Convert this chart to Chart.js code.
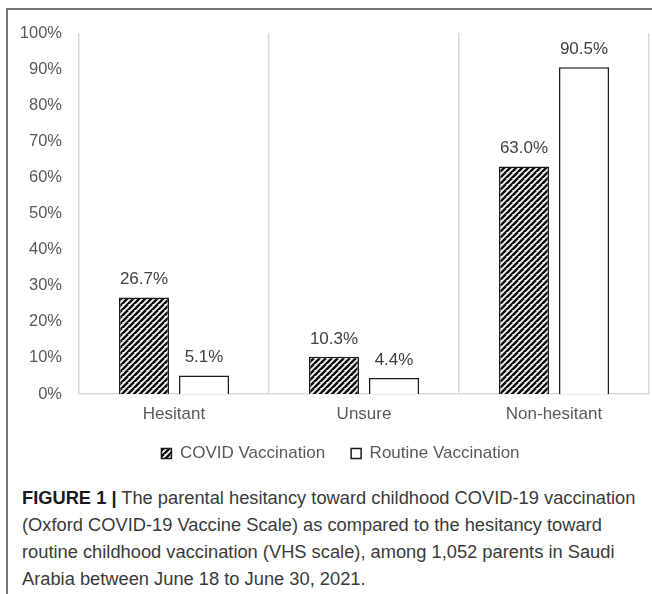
<!DOCTYPE html>
<html>
<head>
<meta charset="utf-8">
<script src="https://cdn.jsdelivr.net/npm/chart.js@4"></script>
<style>
    html, body { margin: 0; padding: 0; background: #fff; }
    body { width: 652px; height: 594px; position: relative; overflow: hidden; }
    .frame {
        position: absolute; left: 6px; top: 8px; right: 0; bottom: 0;
        border-left: 2px solid #777; border-top: 2px solid #777;
    }
    .chart-panel { position: absolute; left: 8px; top: 10px; width: 644px; height: 465px; }
    .caption {
        position: absolute; left: 22px; top: 484px; width: 630px; white-space: nowrap;
        font-family: "Liberation Sans", Arial, sans-serif; font-size: 18.3px;
        line-height: 27px; color: #3a3a3a;
    }
    .caption b { color: #1a1a1a; }
</style>
</head>
<body>
<div class="frame"></div>
<div class="chart-panel"><canvas id="chart"></canvas></div>
<div class="caption"><b>FIGURE 1 |</b> The parental hesitancy toward childhood COVID-19 vaccination<br>(Oxford COVID-19 Vaccine Scale) as compared to the hesitancy toward<br>routine childhood vaccination (VHS scale), among 1,052 parents in Saudi<br>Arabia between June 18 to June 30, 2021.</div>
<script>
const categories = ['Hesitant', 'Unsure', 'Non-hesitant'];
const covidValues = [26.7, 10.3, 63.0];
const routineValues = [5.1, 4.4, 90.5];
const seriesNames = ['COVID Vaccination', 'Routine Vaccination'];
const yTicks = [0, 10, 20, 30, 40, 50, 60, 70, 80, 90, 100];

// hatched fill for the covid bars
function makeHatch() {
    let c = document.createElement('canvas');
    c.width = 6;
    c.height = 6;
    let g = c.getContext('2d');
    g.fillStyle = '#fff';
    g.fillRect(0, 0, 6, 6);
    g.strokeStyle = '#111';
    g.lineWidth = 2.6;
    g.beginPath();
    for (let k = -6; k <= 12; k += 6) {
        g.moveTo(k - 6, 12);
        g.lineTo(k + 6, 0);
    }
    g.stroke();
    return g.createPattern(c, 'repeat');
}

const valueLabels = {
    id: 'valueLabels',
    afterDatasetsDraw(chart) {
        const ctx = chart.ctx;
        ctx.save();
        ctx.font = '17px "Liberation Sans", Arial, sans-serif';
        ctx.fillStyle = '#404040';
        ctx.textAlign = 'center';
        ctx.textBaseline = 'middle';
        chart.data.datasets.forEach((ds, i) => {
            chart.getDatasetMeta(i).data.forEach((bar, j) => {
                ctx.fillText(ds.data[j].toFixed(1) + '%', bar.x, bar.y - 18);
            });
        });
        ctx.restore();
    }
};

// the legend sits a little right of the canvas centre in the original
const legendShift = {
    id: 'legendShift',
    afterLayout(chart) {
        if (chart.legend) {
            chart.legend.left += 24;
        }
    }
};

const hatch = makeHatch();
const font = { family: '"Liberation Sans", Arial, sans-serif', size: 17 };

new Chart(document.getElementById('chart'), {
    type: 'bar',
    data: {
        labels: categories,
        datasets: [{
            label: seriesNames[0],
            data: covidValues,
            backgroundColor: hatch,
            borderColor: '#1a1a1a',
            borderWidth: 1.5,
            categoryPercentage: 0.632,
            barPercentage: 0.833
        }, {
            label: seriesNames[1],
            data: routineValues,
            backgroundColor: '#fff',
            borderColor: '#1a1a1a',
            borderWidth: 1.5,
            categoryPercentage: 0.632,
            barPercentage: 0.833
        }]
    },
    options: {
        responsive: true,
        maintainAspectRatio: false,
        animation: false,
        layout: { padding: { top: 23, right: 3, left: 0, bottom: 3 } },
        scales: {
            x: {
                grid: { offset: true, color: '#d9d9d9', lineWidth: 1.5, drawTicks: false },
                border: { color: '#d9d9d9', width: 1.5 },
                ticks: { font: font, color: '#595959', padding: 10 },
                afterFit: (scale) => { scale.height = 25; }
            },
            y: {
                min: 0,
                max: 100,
                afterBuildTicks: (scale) => { scale.ticks = yTicks.map(v => ({ value: v })); },
                afterFit: (scale) => { scale.width = 71; },
                grid: { display: false },
                border: { display: false },
                ticks: { font: { family: font.family, size: 16.5 }, color: '#595959', padding: 9, callback: v => v + '%' }
            }
        },
        plugins: {
            legend: {
                position: 'bottom',
                labels: {
                    font: font,
                    color: '#595959',
                    boxWidth: 10,
                    boxHeight: 10,
                    padding: 26,
                    generateLabels: (chart) => chart.data.datasets.map((ds, i) => ({
                        text: ds.label,
                        fillStyle: ds.backgroundColor,
                        strokeStyle: '#1a1a1a',
                        lineWidth: 1.5,
                        datasetIndex: i,
                        fontColor: '#595959'
                    }))
                }
            },
            tooltip: { enabled: false }
        }
    },
    plugins: [valueLabels, legendShift]
});
</script>
</body>
</html>
